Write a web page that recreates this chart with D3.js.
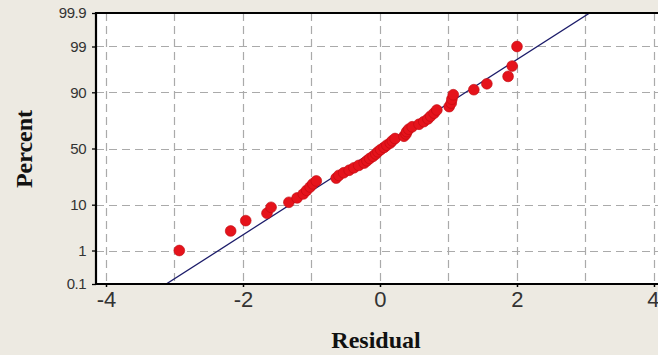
<!DOCTYPE html>
<html><head><meta charset="utf-8">
<script src="https://cdn.jsdelivr.net/npm/d3@7"></script>
<style>
html,body{margin:0;padding:0;background:#EDEAE2;overflow:hidden;}
svg{display:block;}
</style></head>
<body>
<svg id="chart" width="658" height="355"></svg>
<script>
// Residuals (sorted)
const residuals = [-2.93,-2.18,-1.96,-1.65,-1.59,-1.33,-1.21,-1.12,-1.07,-1.02,
  -0.98,-0.93,-0.64,-0.60,-0.53,-0.45,-0.38,-0.31,-0.23,-0.19,
  -0.15,-0.10,-0.06,-0.03,0.01,0.06,0.10,0.15,0.18,0.22,
  0.35,0.38,0.39,0.42,0.47,0.57,0.64,0.70,0.74,0.79,
  0.83,1.01,1.04,1.05,1.07,1.37,1.56,1.87,1.93,2.00];
// Percent plotting positions
const percents = [1,3,5,7,9,11,13,15,17,19,21,23,25,27,29,31,33,35,37,39,41,43,45,47,49,
  51,53,55,57,59,61,63,65,67,69,71,73,75,77,79,81,83,85,87,89,91,93,95,97,99];
const yTickLabels = ["0.1","1","10","50","90","99","99.9"];
const yTickValues = [0.1,1,10,50,90,99,99.9];
const yGridValues = [1,10,50,90,99];
const xTickValues = [-4,-2,0,2,4];
const xGridValues = [-4,-3,-2,-1,0,1,2,3,4];
const fitMean = -0.03;
const fitSd = 1.0;
const fitLineZ = [-3.2, 3.2];
const xTitle = "Residual";
const yTitle = "Percent";

// inverse normal CDF (Acklam)
function probit(p){
  const a=[-3.969683028665376e+01,2.209460984245205e+02,-2.759285104469687e+02,1.383577518672690e+02,-3.066479806614716e+01,2.506628277459239e+00];
  const b=[-5.447609879822406e+01,1.615858368580409e+02,-1.556989798598866e+02,6.680131188771972e+01,-1.328068155288572e+01];
  const c=[-7.784894002430293e-03,-3.223964580411365e-01,-2.400758277161838e+00,-2.549732539343734e+00,4.374664141464968e+00,2.938163982698783e+00];
  const d=[7.784695709041462e-03,3.224671290700398e-01,2.445134137142996e+00,3.754408661907416e+00];
  const pl=0.02425, ph=1-pl; let q,r;
  if(p<pl){q=Math.sqrt(-2*Math.log(p));return (((((c[0]*q+c[1])*q+c[2])*q+c[3])*q+c[4])*q+c[5])/((((d[0]*q+d[1])*q+d[2])*q+d[3])*q+1);}
  if(p<=ph){q=p-0.5;r=q*q;return (((((a[0]*r+a[1])*r+a[2])*r+a[3])*r+a[4])*r+a[5])*q/(((((b[0]*r+b[1])*r+b[2])*r+b[3])*r+b[4])*r+1);}
  q=Math.sqrt(-2*Math.log(1-p));return -(((((c[0]*q+c[1])*q+c[2])*q+c[3])*q+c[4])*q+c[5])/((((d[0]*q+d[1])*q+d[2])*q+d[3])*q+1);
}

const svg = d3.select("#chart");
const pL = 96, pR = 672, pT = 13, pB = 284;
const x = d3.scaleLinear().domain([-4.146, 4.263]).range([pL, pR]);
const zScale = d3.scaleLinear().domain([probit(0.001), probit(0.999)]).range([pB, pT]);
const y = p => zScale(probit(p/100));

// plot background
svg.append("rect").attr("x", pL).attr("y", pT).attr("width", pR-pL).attr("height", pB-pT).attr("fill", "#ffffff");

svg.append("clipPath").attr("id","clip").append("rect")
  .attr("x", pL).attr("y", pT).attr("width", pR-pL).attr("height", pB-pT);

const grid = svg.append("g").attr("stroke", "#aaaaaa").attr("stroke-width", 1.2).attr("stroke-dasharray", "8,5");
grid.selectAll("line.v").data(xGridValues).join("line").attr("class","v")
  .attr("x1", d => Math.round(x(d))+0.5).attr("x2", d => Math.round(x(d))+0.5)
  .attr("y1", pT).attr("y2", pB);
grid.selectAll("line.h").data(yGridValues).join("line").attr("class","h")
  .attr("y1", d => Math.round(y(d))+0.5).attr("y2", d => Math.round(y(d))+0.5)
  .attr("x1", pL).attr("x2", pR);

// fitted line
const plot = svg.append("g").attr("clip-path", "url(#clip)");
plot.append("line")
  .attr("x1", x(fitMean + fitSd*fitLineZ[0])).attr("y1", zScale(fitLineZ[0]))
  .attr("x2", x(fitMean + fitSd*fitLineZ[1])).attr("y2", zScale(fitLineZ[1]))
  .attr("stroke", "#1c1c6a").attr("stroke-width", 1.3);

// points
plot.selectAll("circle").data(residuals.map((r,i)=>({r, p: percents[i]}))).join("circle")
  .attr("cx", d => x(d.r)).attr("cy", d => y(d.p)).attr("r", 5.4)
  .attr("fill", "#e5131b").attr("stroke", "#c00a10").attr("stroke-width", 0.6);

// axes
const xAxis = d3.axisBottom(x).tickValues(xTickValues).tickSize(3).tickPadding(4).tickFormat(d3.format("d"));
const gx = svg.append("g").attr("transform", `translate(0,${pB})`).call(xAxis);
gx.select(".domain").remove();
gx.selectAll(".tick line").attr("stroke", "#000").attr("stroke-width", 1.5);
gx.selectAll(".tick text").attr("font-family", "'Liberation Sans', Arial, sans-serif")
  .attr("font-size", 22).attr("fill", "#333").text(d => d < 0 ? "-" + Math.abs(d) : d)
  .attr("text-anchor", d => d === 4 ? "end" : "middle")
  .attr("dx", d => d === 4 ? 5 : 0);

const yAxis = d3.axisLeft(zScale).tickValues(yTickValues.map(v => probit(v/100))).tickSize(4).tickPadding(6)
  .tickFormat((d,i) => yTickLabels[i]);
const gy = svg.append("g").attr("transform", `translate(${pL},0)`).call(yAxis);
gy.select(".domain").remove();
gy.selectAll(".tick line").attr("stroke", "#000").attr("stroke-width", 1.3);
gy.selectAll(".tick text").attr("font-family", "'Liberation Sans', Arial, sans-serif")
  .attr("font-size", 15).attr("fill", "#333").attr("letter-spacing", "-0.5");

// borders
const border = svg.append("g").attr("stroke", "#000").attr("stroke-width", 2.2);
border.append("line").attr("x1", pL).attr("x2", pR).attr("y1", pT).attr("y2", pT);
border.append("line").attr("x1", pL).attr("x2", pR).attr("y1", pB).attr("y2", pB);
border.append("line").attr("x1", pL).attr("x2", pL).attr("y1", pT-1).attr("y2", pB+1);

// titles
svg.append("text").attr("x", 376).attr("y", 348).attr("text-anchor", "middle")
  .attr("font-family", "'Liberation Serif', 'Times New Roman', serif").attr("font-weight", "bold")
  .attr("font-size", 24).attr("fill", "#111").text(xTitle);
svg.append("text").attr("transform", "translate(32,149) rotate(-90)").attr("text-anchor", "middle")
  .attr("font-family", "'Liberation Serif', 'Times New Roman', serif").attr("font-weight", "bold")
  .attr("font-size", 24).attr("fill", "#111").text(yTitle);
</script>
</body></html>
